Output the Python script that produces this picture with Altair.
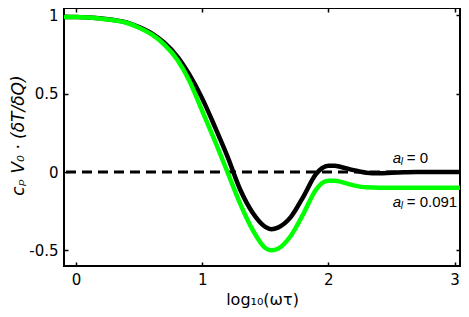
import altair as alt
import pandas as pd

# ---- data ----
log_wt = [-0.1, 0.0, 0.1, 0.2, 0.3, 0.4, 0.5, 0.6, 0.7, 0.8, 0.9, 1.0, 1.1, 1.2,
          1.3, 1.4, 1.5, 1.55, 1.6, 1.7, 1.8, 1.9, 1.95, 2.0, 2.05, 2.1, 2.2, 2.3,
          2.4, 2.5, 2.6, 2.7, 2.8, 2.9, 3.0, 3.1]
resp_a0 = [0.99, 0.99, 0.986, 0.98, 0.97, 0.955, 0.925, 0.885, 0.825, 0.74, 0.62,
           0.47, 0.29, 0.10, -0.11, -0.26, -0.35, -0.365, -0.355, -0.29, -0.16,
           -0.015, 0.025, 0.04, 0.04, 0.032, 0.012, -0.004, -0.008, -0.005, -0.002,
           0.0, 0.0, 0.0, 0.0, 0.0]
resp_a091 = [0.99, 0.99, 0.986, 0.979, 0.969, 0.953, 0.921, 0.878, 0.813, 0.72,
             0.58, 0.39, 0.20, 0.0, -0.20, -0.37, -0.485, -0.50, -0.49, -0.41,
             -0.27, -0.115, -0.07, -0.055, -0.055, -0.063, -0.085, -0.098, -0.10,
             -0.10, -0.10, -0.10, -0.10, -0.10, -0.10, -0.10]

x_ticks = [0, 1, 2, 3]
y_ticks = [-0.5, 0, 0.5, 1]

label_x = [2.51, 2.51]
label_y = [0.057, -0.223]
label_rest = ["= 0", "= 0.091"]

FONT = "DejaVu Sans"
LFONT = "Liberation Sans"

df_black = pd.DataFrame({"x": log_wt, "y": resp_a0})
df_green = pd.DataFrame({"x": log_wt, "y": resp_a091})
df_zero = pd.DataFrame({"y": [0.0]})
df_lab = pd.DataFrame({"x": label_x, "y": label_y, "a": ["a", "a"],
                       "l": ["l", "l"], "rest": label_rest})

xscale = alt.Scale(domain=[-0.095, 3.043], nice=False, zero=False)
yscale = alt.Scale(domain=[-0.6, 1.047], nice=False, zero=False)

common_axis = dict(grid=False, domain=False, tickColor="black", tickWidth=1.5,
                   tickSize=4, offset=-4)

x_bottom = alt.Axis(orient="bottom", values=x_ticks, title="log₁₀(ωτ)",
                    labelExpr="'' + datum.value", labelFont=FONT, labelFontSize=15,
                    labelColor="black", labelPadding=6, titleFont=FONT,
                    titleFontSize=16, titleFontWeight="normal", titleColor="black",
                    titleBaseline="alphabetic", titleY=42, **common_axis)
y_left = alt.Axis(orient="left", values=y_ticks, title="cₚ V₀ · (δT/δQ)",
                  labelExpr="'' + datum.value", labelFont=FONT, labelFontSize=15,
                  labelColor="black", labelPadding=6, titleFont=FONT,
                  titleFontSize=17, titleFontWeight="normal", titleFontStyle="italic",
                  titleColor="black", titleAngle=270, titleBaseline="middle",
                  titleAlign="center", titleX=-50, titleY=127, **common_axis)
x_top = alt.Axis(orient="top", values=x_ticks, labels=False, title=None, **common_axis)
y_right = alt.Axis(orient="right", values=y_ticks, labels=False, title=None, **common_axis)

zero = alt.Chart(df_zero).mark_rule(color="black", strokeWidth=3, strokeDash=[10, 6]).encode(
    y=alt.Y("y:Q", scale=yscale, axis=None)
)

black = alt.Chart(df_black).mark_line(color="black", strokeWidth=4.5, clip=True,
                                      interpolate="monotone").encode(
    x=alt.X("x:Q", scale=xscale, axis=x_bottom),
    y=alt.Y("y:Q", scale=yscale, axis=y_left),
)

green = alt.Chart(df_green).mark_line(color="#00ff00", strokeWidth=4.5, clip=True,
                                      interpolate="monotone").encode(
    x=alt.X("x:Q", scale=xscale, axis=x_top),
    y=alt.Y("y:Q", scale=yscale, axis=y_right),
)

base_lab = alt.Chart(df_lab).encode(
    x=alt.X("x:Q", scale=xscale, axis=None),
    y=alt.Y("y:Q", scale=yscale, axis=None),
)
lab_a = base_lab.mark_text(font=LFONT, fontSize=15, fontStyle="italic", align="left",
                           baseline="alphabetic", color="black").encode(text="a:N")
lab_l = base_lab.mark_text(font=LFONT, fontSize=10, fontStyle="italic", align="left",
                           baseline="alphabetic", color="black", dx=8, dy=2).encode(text="l:N")
lab_rest = base_lab.mark_text(font=LFONT, fontSize=15, align="left",
                              baseline="alphabetic", color="black", dx=14).encode(text="rest:N")

chart = alt.layer(zero, black, green, lab_a, lab_l, lab_rest).resolve_axis(
    x="independent", y="independent"
).properties(
    width=396, height=258,
    autosize=alt.AutoSizeParams(type="none"),
    padding={"left": 56, "top": 0, "right": 1, "bottom": 42},
).configure_view(stroke="black", strokeWidth=2)

chart.save("out.html", embed_options={"renderer": "svg", "actions": False})
